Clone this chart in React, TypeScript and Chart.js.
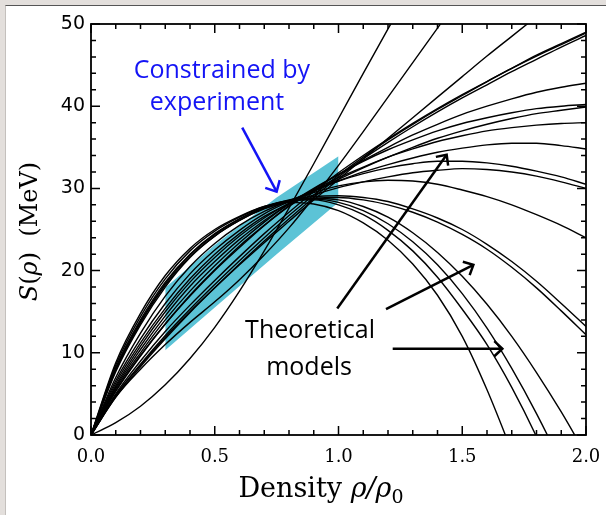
import React, { useEffect, useRef } from "react";
import { Chart, registerables } from "chart.js";

Chart.register(...registerables);

// ---------- data ----------
const DENSITY = [0, 0.1, 0.2, 0.3, 0.4, 0.5, 0.6, 0.7, 0.8, 0.9, 1.0, 1.1, 1.2, 1.3, 1.4, 1.5, 1.6, 1.7, 1.8, 1.9, 2.0];

const S_A = [0, 1.5, 3.5, 6.1, 9.3, 13.1, 17.5, 22.4, 27.6, 33.0, 38.5, 44.0, 49.4, 54.7, 60.0, 65.2, 70.4, 75.6, 80.8, 86.0, 91.2];
const S_B = [0, 4.6, 8.0, 11.0, 13.7, 16.2, 18.9, 21.9, 25.2, 28.9, 32.8, 36.9, 41.1, 45.3, 49.5, 53.7, 57.9, 62.1, 66.3, 70.5, 74.7];
const S_C = [0, 4.8, 8.5, 11.9, 15.0, 17.9, 20.7, 23.4, 26.0, 28.6, 31.1, 33.6, 36.1, 38.6, 41.1, 43.6, 46.1, 48.5, 50.9, 53.3, 55.6];
const S_D1 = [0, 5.0, 9.0, 12.6, 15.8, 18.8, 21.7, 24.5, 27.1, 29.6, 31.9, 34.0, 36.0, 37.9, 39.7, 41.4, 43.0, 44.6, 46.1, 47.5, 48.9];
const S_D2 = [0, 4.8, 8.6, 12.1, 15.3, 18.3, 21.2, 24.0, 26.7, 29.2, 31.6, 33.8, 35.9, 37.8, 39.6, 41.3, 43.0, 44.6, 46.2, 47.6, 49.0];
const S_D3 = [0, 4.6, 8.3, 11.7, 14.9, 17.9, 20.8, 23.6, 26.3, 28.9, 31.4, 33.6, 35.6, 37.5, 39.3, 41.0, 42.6, 44.2, 45.7, 47.2, 48.6];
const S_E = [0, 5.4, 9.7, 13.5, 16.9, 20.0, 22.8, 25.5, 27.9, 29.9, 31.7, 33.4, 35.0, 36.5, 37.8, 39.0, 40.0, 40.9, 41.7, 42.3, 42.8];
const S_F1 = [0, 5.6, 10.0, 14.0, 17.5, 20.6, 23.4, 25.9, 28.1, 30.0, 31.7, 33.3, 34.7, 35.9, 37.0, 37.9, 38.6, 39.2, 39.7, 40.0, 40.2];
const S_F2 = [0, 5.3, 9.6, 13.5, 17.0, 20.1, 23.0, 25.5, 27.8, 29.6, 31.1, 32.5, 33.8, 35.0, 36.1, 37.0, 37.8, 38.5, 39.1, 39.5, 39.9];
const S_G = [0, 5.8, 10.4, 14.5, 18.1, 21.1, 23.8, 26.1, 28.1, 29.8, 31.3, 32.6, 33.8, 34.8, 35.7, 36.4, 37.0, 37.4, 37.7, 37.9, 38.0];
const S_H = [0, 6.0, 10.8, 15.0, 18.6, 21.6, 24.2, 26.4, 28.2, 29.7, 30.9, 32.0, 32.9, 33.7, 34.4, 34.9, 35.3, 35.5, 35.5, 35.2, 34.8];
const S_R1 = [0, 6.6, 11.7, 16.0, 19.6, 22.5, 24.9, 26.9, 28.4, 29.8, 30.9, 31.8, 32.5, 33.0, 33.3, 33.3, 33.1, 32.7, 32.1, 31.4, 30.5];
const S_R2 = [0, 6.3, 11.2, 15.4, 19.0, 22.0, 24.5, 26.6, 28.1, 29.2, 30.1, 30.8, 31.4, 31.9, 32.2, 32.4, 32.3, 32.0, 31.5, 30.8, 30.0];
const S_Q = [0, 7.0, 12.4, 16.9, 20.5, 23.3, 25.5, 27.2, 28.5, 29.5, 30.3, 30.8, 31.0, 30.9, 30.5, 29.8, 29.0, 28.0, 26.8, 25.5, 24.0];
const S_P1 = [0, 8.0, 13.8, 18.4, 21.9, 24.4, 26.3, 27.7, 28.6, 29.0, 29.1, 28.9, 28.4, 27.5, 26.4, 25.0, 23.2, 21.1, 18.7, 16.0, 13.2];
const S_P2 = [0, 7.7, 13.4, 18.0, 21.6, 24.2, 26.1, 27.5, 28.4, 28.8, 28.9, 28.6, 28.0, 27.1, 25.9, 24.4, 22.6, 20.4, 17.9, 15.1, 12.2];
const S_Z1 = [0, 8.8, 14.8, 19.4, 22.7, 25.0, 26.6, 27.8, 28.3, 28.1, 27.3, 25.8, 23.7, 20.8, 17.0, 12.0, 5.5, -2.0, -10.0, -19.0, -29.0];
const S_Z2 = [0, 8.5, 14.4, 19.0, 22.4, 24.8, 26.5, 27.8, 28.5, 28.6, 28.0, 26.8, 24.9, 22.4, 19.2, 15.3, 11.0, 5.8, -0.2, -7.0, -14.5];
const S_Z3 = [0, 8.2, 14.0, 18.6, 22.0, 24.5, 26.3, 27.7, 28.5, 28.7, 28.3, 27.3, 25.7, 23.5, 20.7, 17.2, 13.0, 8.1, 2.6, -3.5, -10.2];
const S_Z4 = [0, 7.9, 13.6, 18.2, 21.7, 24.2, 26.1, 27.6, 28.5, 28.8, 28.6, 27.8, 26.5, 24.6, 22.2, 19.3, 15.9, 12.0, 7.6, 2.8, -2.4];

const MODEL_CURVES = [S_A, S_B, S_C, S_D1, S_D2, S_D3, S_E, S_F1, S_F2, S_G, S_H, S_R1, S_R2, S_Q, S_P1, S_P2, S_Z1, S_Z2, S_Z3, S_Z4];

// experimental constraint band
const BAND_X = [0.3, 0.5, 0.75, 1.0];
const BAND_UPPER = [17.9, 23.1, 28.9, 33.9];
const BAND_LOWER = [10.3, 15.5, 22.0, 28.3];

// ticks
const X_TICK_VALUES = [0, 0.5, 1.0, 1.5, 2.0];
const X_TICK_LABELS = ["0.0", "0.5", "1.0", "1.5", "2.0"];
const Y_TICK_VALUES = [0, 10, 20, 30, 40, 50];
const Y_TICK_LABELS = ["0", "10", "20", "30", "40", "50"];

// annotations (data coordinates)
const NOTE_EXPERIMENT = { lines: ["Constrained by", "experiment"], x: [0.529, 0.509], y: [43.4, 39.5] };
const NOTE_THEORY = { lines: ["Theoretical", "models"], x: [0.885, 0.881], y: [11.8, 7.3] };
const ARROW_EXPERIMENT = { from: [0.611, 37.4], to: [0.75, 29.6] };
const ARROWS_THEORY = [
  { from: [0.995, 15.4], to: [1.437, 34.1] },
  { from: [1.192, 15.3], to: [1.545, 20.7] },
  { from: [1.219, 10.5], to: [1.662, 10.5] },
];

// ---------- drawing helpers ----------
type Seg = { t: string; font: string; dy?: number };

function drawRich(ctx: CanvasRenderingContext2D, segs: Seg[], cx: number, baseline: number) {
  let total = 0;
  const widths = segs.map((s) => {
    ctx.font = s.font;
    const w = ctx.measureText(s.t).width;
    total += w;
    return w;
  });
  let x = cx - total / 2;
  ctx.textAlign = "left";
  ctx.textBaseline = "alphabetic";
  segs.forEach((s, i) => {
    ctx.font = s.font;
    ctx.fillText(s.t, x, baseline + (s.dy || 0));
    x += widths[i];
  });
}

function drawArrow(ctx: CanvasRenderingContext2D, x1: number, y1: number, x2: number, y2: number, head: number, color: string, width: number) {
  ctx.save();
  ctx.strokeStyle = color;
  ctx.lineWidth = width;
  ctx.lineCap = "butt";
  ctx.lineJoin = "miter";
  ctx.beginPath();
  ctx.moveTo(x1, y1);
  ctx.lineTo(x2, y2);
  ctx.stroke();
  const ang = Math.atan2(y2 - y1, x2 - x1);
  const a = Math.PI * 0.24;
  ctx.beginPath();
  ctx.moveTo(x2 - head * Math.cos(ang - a), y2 - head * Math.sin(ang - a));
  ctx.lineTo(x2, y2);
  ctx.lineTo(x2 - head * Math.cos(ang + a), y2 - head * Math.sin(ang + a));
  ctx.stroke();
  ctx.restore();
}

const SERIF = '"DejaVu Serif"';

const framePlugin = {
  id: "frameTicks",
  afterDraw(chart: any) {
    const { ctx, chartArea: a, scales } = chart;
    const xs = scales.x;
    const ys = scales.y;
    const P = (x: number, y: number) => [xs.getPixelForValue(x), ys.getPixelForValue(y)];
    ctx.save();

    // inward ticks on all four sides + frame
    ctx.strokeStyle = "#000";
    ctx.lineWidth = 1.5;
    ctx.beginPath();
    for (let i = 0; i <= 20; i++) {
      const px = xs.getPixelForValue(i / 10);
      const len = i % 5 === 0 ? 9 : 5;
      ctx.moveTo(px, a.bottom);
      ctx.lineTo(px, a.bottom - len);
      ctx.moveTo(px, a.top);
      ctx.lineTo(px, a.top + len);
    }
    for (let v = 0; v <= 50; v += 2) {
      const py = ys.getPixelForValue(v);
      const len = v % 10 === 0 ? 9 : 5;
      ctx.moveTo(a.left, py);
      ctx.lineTo(a.left + len, py);
      ctx.moveTo(a.right, py);
      ctx.lineTo(a.right - len, py);
    }
    ctx.stroke();
    ctx.lineWidth = 1.8;
    ctx.strokeRect(a.left, a.top, a.right - a.left, a.bottom - a.top);

    // annotation texts
    ctx.fillStyle = "#1414f5";
    ctx.font = '25px "Open Sans"';
    ctx.textAlign = "center";
    ctx.textBaseline = "alphabetic";
    NOTE_EXPERIMENT.lines.forEach((t, i) => {
      const [px, py] = P(NOTE_EXPERIMENT.x[i], NOTE_EXPERIMENT.y[i]);
      ctx.fillText(t, px, py);
    });
    ctx.fillStyle = "#000";
    NOTE_THEORY.lines.forEach((t, i) => {
      const [px, py] = P(NOTE_THEORY.x[i], NOTE_THEORY.y[i]);
      ctx.fillText(t, px, py);
    });

    // arrows
    {
      const [x1, y1] = P(ARROW_EXPERIMENT.from[0], ARROW_EXPERIMENT.from[1]);
      const [x2, y2] = P(ARROW_EXPERIMENT.to[0], ARROW_EXPERIMENT.to[1]);
      drawArrow(ctx, x1, y1, x2, y2, 12, "#1414f5", 2.5);
    }
    ARROWS_THEORY.forEach((ar) => {
      const [x1, y1] = P(ar.from[0], ar.from[1]);
      const [x2, y2] = P(ar.to[0], ar.to[1]);
      drawArrow(ctx, x1, y1, x2, y2, 11, "#000", 2.5);
    });

    // axis titles
    ctx.fillStyle = "#000";
    drawRich(
      ctx,
      [
        { t: "Density ", font: `27px ${SERIF}` },
        { t: "ρ/ρ", font: `italic 27px ${SERIF}` },
        { t: "0", font: `19px ${SERIF}`, dy: 6 },
      ],
      321,
      497
    );
    ctx.save();
    ctx.translate(37, (a.top + a.bottom) / 2 + 2);
    ctx.rotate(-Math.PI / 2);
    drawRich(
      ctx,
      [
        { t: "S", font: `italic 24px ${SERIF}` },
        { t: "(", font: `24px ${SERIF}` },
        { t: "ρ", font: `italic 24px ${SERIF}` },
        { t: ")", font: `24px ${SERIF}` },
        { t: "  (MeV)", font: `24px ${SERIF}` },
      ],
      0,
      0
    );
    ctx.restore();
    ctx.restore();
  },
};

export default function App() {
  const canvasRef = useRef<HTMLCanvasElement | null>(null);

  useEffect(() => {
    const canvas = canvasRef.current;
    if (!canvas) return;

    const curveSets = MODEL_CURVES.map((curve) => ({
      data: DENSITY.map((x, i) => ({ x, y: curve[i] })),
      borderColor: "#000",
      borderWidth: 1.4,
      pointRadius: 0,
      fill: false,
      cubicInterpolationMode: "monotone" as const,
    }));

    const bandUpper = {
      data: BAND_X.map((x, i) => ({ x, y: BAND_UPPER[i] })),
      borderColor: "rgba(0,0,0,0)",
      borderWidth: 0,
      pointRadius: 0,
      backgroundColor: "#5cc3d6",
      fill: "+1",
      tension: 0,
    };
    const bandLower = {
      data: BAND_X.map((x, i) => ({ x, y: BAND_LOWER[i] })),
      borderColor: "rgba(0,0,0,0)",
      borderWidth: 0,
      pointRadius: 0,
      fill: false,
      tension: 0,
    };

    const chart = new Chart(canvas, {
      type: "line",
      data: { datasets: [...curveSets, bandUpper, bandLower] as any },
      options: {
        responsive: false,
        animation: false,
        devicePixelRatio: 1,
        layout: { padding: { left: 0, top: 24, right: 20, bottom: 0 } },
        plugins: {
          legend: { display: false },
          tooltip: { enabled: false },
          filler: { drawTime: "beforeDatasetsDraw" },
        } as any,
        scales: {
          x: {
            type: "linear",
            min: 0,
            max: 2,
            grid: { display: false, drawTicks: false },
            border: { display: false },
            afterFit: (s: any) => {
              s.height = 80;
              s.paddingLeft = 0;
              s.paddingRight = 0;
            },
            afterBuildTicks: (s: any) => {
              s.ticks = X_TICK_VALUES.map((v) => ({ value: v }));
            },
            ticks: {
              padding: 12,
              color: "#000",
              font: { family: "DejaVu Serif", size: 18 },
              maxRotation: 0,
              autoSkip: false,
              callback: (_v: any, i: number) => X_TICK_LABELS[i],
            },
          },
          y: {
            type: "linear",
            min: 0,
            max: 50,
            grid: { display: false, drawTicks: false },
            border: { display: false },
            afterFit: (s: any) => {
              s.width = 91;
              s.paddingTop = 0;
              s.paddingBottom = 0;
            },
            afterBuildTicks: (s: any) => {
              s.ticks = Y_TICK_VALUES.map((v) => ({ value: v }));
            },
            ticks: {
              padding: 6,
              color: "#000",
              font: { family: "DejaVu Sans", size: 19 },
              autoSkip: false,
              callback: (_v: any, i: number) => Y_TICK_LABELS[i],
            },
          },
        },
      },
      plugins: [framePlugin],
    });

    return () => {
      chart.destroy();
    };
  }, []);

  return (
    <div style={{ position: "fixed", left: 0, top: 0, width: 606, height: 515, background: "#e3dfdc", overflow: "hidden" }}>
      <div
        style={{
          position: "absolute",
          left: 5,
          top: 5,
          right: 0,
          bottom: 0,
          background: "#fff",
          borderTop: "1px solid #555",
          borderLeft: "1px solid #c4c0bd",
        }}
      />
      <canvas ref={canvasRef} width={606} height={515} style={{ position: "absolute", left: 0, top: 0, width: 606, height: 515 }} />
    </div>
  );
}
